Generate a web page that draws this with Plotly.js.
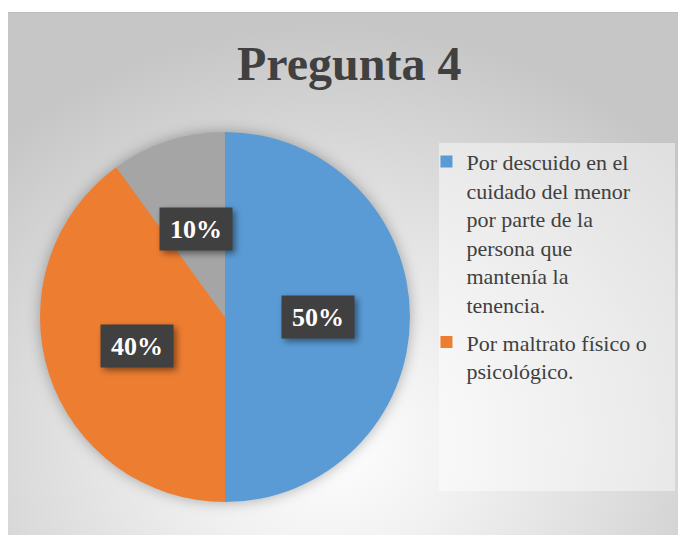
<!DOCTYPE html>
<html>
<head>
<meta charset="utf-8">
<script src="https://cdn.plot.ly/plotly-3.0.1.min.js"></script>
<style>
html, body { margin: 0; padding: 0; background: #ffffff; }
#panel {
    position: absolute; left: 8px; top: 12px; width: 670px; height: 523px;
    border-top: 1px solid #bdbdbd;
    background: radial-gradient(ellipse 70% 80% at 48% 82%, #ffffff 0%, #f0f0f0 30%, #dcdcdc 65%, #c6c6c6 100%);
}
#chart { position: absolute; left: 0; top: 0; width: 678px; height: 535px; }
.pielayer { filter: drop-shadow(0 0 7px rgba(0, 0, 0, 0.3)); }
.annotation-text-g rect.bg { filter: drop-shadow(3px 3px 3px rgba(0, 0, 0, 0.45)); }
</style>
</head>
<body>
<div id="panel"></div>
<div id="chart"></div>
<script>
document.addEventListener("DOMContentLoaded", function () {
    const categories = [
        "Por descuido en el<br>cuidado del menor<br>por parte de la<br>persona que<br>mantenía la<br>tenencia.",
        "Por maltrato físico o<br>psicológico.",
        "Otro",
    ];
    const percentages = [50, 40, 10];
    const sliceColors = ["#5B9BD5", "#ED7D31", "#A5A5A5"];

    // page and pie geometry in px
    const W = 678, H = 535;
    const cx = 225, cy = 317, R = 185;
    const pieDomain = {
        x: [(cx - R) / W, (cx + R) / W],
        y: [(H - cy - R) / H, (H - cy + R) / H],
    };

    const pie = {
        type: "pie",
        labels: categories,
        values: percentages,
        marker: { colors: sliceColors },
        sort: false,
        direction: "clockwise",
        rotation: 0,
        textinfo: "none",
        hoverinfo: "label+percent",
        showlegend: false,
        domain: pieDomain,
    };

    // the original legend lists only the first two categories;
    // tiny pies hidden under the main one carry those legend entries
    const tinyDomain = {
        x: [cx / W - 0.001, cx / W + 0.001],
        y: [(H - cy) / H - 0.001, (H - cy) / H + 0.001],
    };
    const legendTraces = [0, 1].map(function (i) {
        return {
            type: "pie",
            labels: [categories[i]],
            values: [percentages[i]],
            marker: { colors: [sliceColors[i]] },
            legendgroup: "g" + i,
            textinfo: "none",
            hoverinfo: "skip",
            showlegend: true,
            domain: tinyDomain,
        };
    });

    // data labels at half radius on each slice's middle angle
    const total = percentages.reduce((a, b) => a + b, 0);
    let acc = 0;
    const labels = percentages.map(function (v) {
        const mid = (acc + v / 2) / total * 2 * Math.PI;
        acc += v;
        return {
            xref: "paper", yref: "paper",
            x: (cx + 0.5 * R * Math.sin(mid)) / W,
            y: (H - cy + 0.5 * R * Math.cos(mid)) / H,
            xanchor: "center", yanchor: "middle",
            text: "<b>" + v + "%</b>",
            showarrow: false,
            width: 70, height: 40,
            bgcolor: "#404040",
            font: { family: "Liberation Serif", size: 26, color: "#ffffff" },
        };
    });

    const layout = {
        width: W,
        height: H,
        margin: { l: 0, r: 0, t: 0, b: 0 },
        paper_bgcolor: "rgba(0,0,0,0)",
        plot_bgcolor: "rgba(0,0,0,0)",
        title: {
            text: "<b>Pregunta 4</b>",
            font: { family: "Liberation Serif", size: 48, color: "#404040" },
            x: 0.515, xanchor: "center",
            yref: "container", y: 0.882, yanchor: "middle",
        },
        legend: {
            x: 0.629, xanchor: "left",
            y: 0.737, yanchor: "top",
            valign: "top",
            traceorder: "grouped",
            tracegroupgap: 6,
            bgcolor: "rgba(0,0,0,0)",
            font: { family: "Liberation Serif", size: 22, color: "#404040" },
        },
        shapes: [{
            type: "rect", xref: "paper", yref: "paper", layer: "below",
            x0: 439 / W, x1: 675 / W, y0: 1 - 491 / H, y1: 1 - 143 / H,
            fillcolor: "rgba(255,255,255,0.45)", line: { width: 0 },
        }],
        annotations: labels,
    };

    Plotly.newPlot("chart", legendTraces.concat([pie]), layout, { displayModeBar: false });
});
</script>
</body>
</html>
